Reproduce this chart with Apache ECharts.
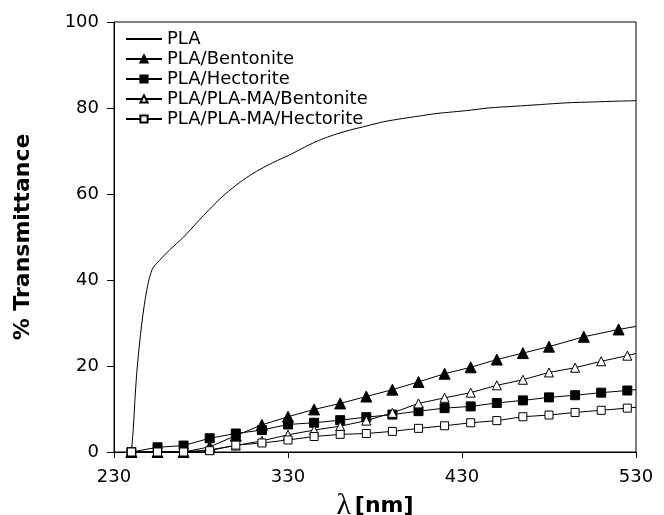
<!DOCTYPE html>
<html>
<head>
<meta charset="utf-8">
<script src="https://cdn.jsdelivr.net/npm/echarts@6/dist/echarts.min.js"></script>
<style>
  html, body { margin: 0; padding: 0; background: #fff; }
  #chart { width: 664px; height: 515px; }
</style>
</head>
<body>
<div id="chart"></div>
<script>
// wavelengths (nm) and % transmittance
const plaX = [240, 241, 243, 246, 249, 252, 256, 262, 270, 278, 285, 292, 300, 308, 316, 324, 332, 340, 348, 356, 365, 375, 385, 395, 405, 415, 425, 435, 445, 460, 475, 490, 505, 520, 530]
const plaY = [0, 5, 18, 30, 38, 42.5, 44.5, 47, 50, 53.5, 56.5, 59.3, 62, 64.3, 66.2, 67.8, 69.3, 71, 72.5, 73.7, 74.8, 75.8, 76.8, 77.5, 78.1, 78.7, 79.1, 79.5, 80, 80.4, 80.8, 81.2, 81.4, 81.6, 81.7]

const bentX = [240, 255, 270, 285, 300, 315, 330, 345, 360, 375, 390, 405, 420, 435, 450, 465, 480, 500, 520, 530]
const bentY = [0, 0, 0, 1.2, 3.8, 6.3, 8.2, 9.9, 11.3, 12.9, 14.5, 16.3, 18.2, 19.7, 21.5, 23.0, 24.5, 26.8, 28.5, 29.2]

const gridX = [240, 255, 270, 285, 300, 315, 330, 345, 360, 375, 390, 405, 420, 435, 450, 465, 480, 495, 510, 525, 530]
const hectY = [0, 1.1, 1.5, 3.2, 4.3, 5.1, 6.4, 6.8, 7.4, 8.1, 8.7, 9.5, 10.2, 10.6, 11.4, 12.0, 12.7, 13.2, 13.8, 14.3, 14.5]
const maBentY = [0, 0, 0, 0.5, 1.5, 2.6, 4.0, 5.1, 6.0, 7.3, 9.1, 11.3, 12.6, 13.8, 15.5, 16.8, 18.5, 19.6, 21.1, 22.4, 22.9]
const maHectY = [0, 0, 0, 0.3, 1.6, 2.1, 2.8, 3.6, 4.1, 4.3, 4.8, 5.5, 6.1, 6.8, 7.3, 8.2, 8.6, 9.2, 9.7, 10.2, 10.4]

const names = ['PLA', 'PLA/Bentonite', 'PLA/Hectorite', 'PLA/PLA-MA/Bentonite', 'PLA/PLA-MA/Hectorite']

const font = '"DejaVu Sans", "Liberation Sans", Arial, sans-serif'

// last point sits on the right frame, line only
const pairs = (xs, ys) => xs.map((x, i) => {
  if (i === xs.length - 1) return { value: [x, ys[i]], symbol: 'none' }
  return [x, ys[i]]
})

const markerSeries = (name, data, symbol, size, filled) => ({
  name,
  type: 'line',
  data,
  symbol,
  symbolSize: size,
  showAllSymbol: true,
  lineStyle: { color: '#000', width: 1 },
  itemStyle: { color: filled ? '#000' : '#fff', borderColor: '#000', borderWidth: 1 },
  emphasis: { disabled: true },
  z: 3
})

const chart = echarts.init(document.getElementById('chart'), null, { renderer: 'canvas' })
chart.setOption({
  animation: false,
  backgroundColor: '#fff',
  textStyle: { fontFamily: font, color: '#000' },
  grid: {
    left: 114, right: 28, top: 22, bottom: 63,
    outerBoundsMode: 'none',
    containLabel: false,
    show: true, borderColor: '#000', borderWidth: 1
  },
  legend: {
    orient: 'vertical',
    left: 125,
    top: 30,
    padding: 0,
    itemWidth: 36,
    itemHeight: 9,
    itemGap: 2,
    data: [
      { name: names[0], itemStyle: { opacity: 0 } },
      names[1], names[2], names[3], names[4]
    ],
    textStyle: { fontFamily: font, fontSize: 18, color: '#000', lineHeight: 17.4 },
    inactiveColor: '#000'
  },
  xAxis: {
    type: 'value',
    min: 230,
    max: 530,
    interval: 100,
    name: '{l|λ} {b|[nm]}',
    nameLocation: 'middle',
    nameGap: 26,
    nameTextStyle: {
      rich: {
        l: { fontFamily: '"Liberation Serif", "DejaVu Serif", serif', fontSize: 30, color: '#000' },
        b: { fontFamily: font, fontSize: 22, fontWeight: 'bold', color: '#000' }
      }
    },
    axisLine: { lineStyle: { color: '#000', width: 1 } },
    axisTick: { show: true, inside: false, length: 6, lineStyle: { color: '#000' } },
    axisLabel: { fontSize: 18, color: '#000', margin: 16, fontFamily: font },
    splitLine: { show: false }
  },
  yAxis: {
    type: 'value',
    min: 0,
    max: 100,
    interval: 20,
    name: '% Transmittance',
    nameLocation: 'middle',
    nameGap: 80,
    nameTextStyle: { fontSize: 22, fontWeight: 'bold', color: '#000', fontFamily: font },
    axisLine: { show: true, lineStyle: { color: '#000', width: 1 } },
    axisTick: { show: true, inside: false, length: 7, lineStyle: { color: '#000' } },
    axisLabel: { fontSize: 18, color: '#000', margin: 15, fontFamily: font },
    splitLine: { show: false }
  },
  series: [
    {
      name: names[0],
      type: 'line',
      data: plaX.map((x, i) => [x, plaY[i]]),
      symbol: 'none',
      smooth: 0.3,
      lineStyle: { color: '#000', width: 1 },
      itemStyle: { color: '#000' },
      emphasis: { disabled: true }
    },
    markerSeries(names[1], pairs(bentX, bentY), 'triangle', 11, true),
    markerSeries(names[2], pairs(gridX, hectY), 'rect', 9, true),
    markerSeries(names[3], pairs(gridX, maBentY), 'triangle', 9, false),
    markerSeries(names[4], pairs(gridX, maHectY), 'rect', 8, false)
  ]
})
</script>
</body>
</html>
